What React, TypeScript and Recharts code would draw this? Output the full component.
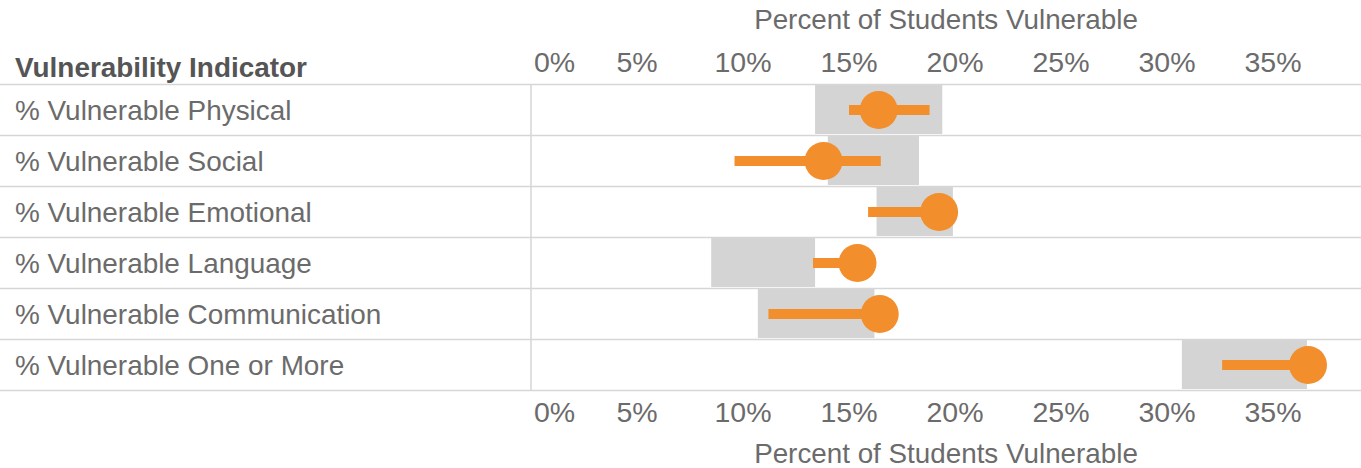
import React from "react";
import { ComposedChart, Bar, XAxis, YAxis } from "recharts";

const indicators = [
  "% Vulnerable Physical",
  "% Vulnerable Social",
  "% Vulnerable Emotional",
  "% Vulnerable Language",
  "% Vulnerable Communication",
  "% Vulnerable One or More",
];
// grey band (comparison range)
const bandLow = [13.4, 14.0, 16.3, 8.5, 10.7, 30.7];
const bandHigh = [19.4, 18.3, 19.9, 13.4, 16.2, 36.6];
// orange line (range)
const rangeLow = [15.0, 9.6, 15.9, 13.3, 11.2, 32.6];
const rangeHigh = [18.8, 16.5, 19.2, 15.4, 16.4, 36.6];
// dot
const current = [16.4, 13.8, 19.25, 15.4, 16.45, 36.65];

const xTicks = [0, 5, 10, 15, 20, 25, 30, 35];
const xMax = 39.15;
const axisTitle = "Percent of Students Vulnerable";

const data = indicators.map((name, i) => ({
  name,
  band: [bandLow[i], bandHigh[i]],
  range: [rangeLow[i], rangeHigh[i]],
  value: current[i],
}));

const W = 1361;
const H = 468;
const TOP = 84;
const BOTTOM = 78;
const LEFT = 531;
const ROW = (H - TOP - BOTTOM) / indicators.length;

const ORANGE = "#F28E2B";
const GREY = "#D4D4D4";
const RULE = "#D6D6D6";
const TEXT = "#6B6B6B";
const FONT = "'Liberation Sans', Arial, Helvetica, sans-serif";

const makeXTick = (yc: number) => (props: any) => {
  const { x, payload } = props;
  const isZero = payload.value === 0;
  return (
    <text
      x={isZero ? x + 3 : x}
      y={yc}
      textAnchor={isZero ? "start" : "middle"}
      dominantBaseline="central"
      fontSize={28.5}
      fontFamily={FONT}
      fill={TEXT}
    >
      {payload.value}%
    </text>
  );
};

const makeTitle = (baseline: number) => (props: any) => {
  const vb = props.viewBox || {};
  return (
    <text
      x={vb.x + vb.width / 2}
      y={baseline}
      textAnchor="middle"
      fontSize={27.8}
      fontFamily={FONT}
      fill={TEXT}
    >
      {axisTitle}
    </text>
  );
};

const YTick = (props: any) => {
  const { y, payload, index } = props;
  const top = Math.round(y - ROW / 2) + 0.5;
  const bottom = Math.round(y + ROW / 2) + 0.5;
  return (
    <g>
      <line x1={0} x2={W} y1={top} y2={top} stroke={RULE} strokeWidth={1.5} />
      {index === indicators.length - 1 && (
        <line x1={0} x2={W} y1={bottom} y2={bottom} stroke={RULE} strokeWidth={1.5} />
      )}
      <text
        x={15}
        y={y + 1}
        dominantBaseline="central"
        fontSize={27.9}
        fontFamily={FONT}
        fill={TEXT}
      >
        {payload.value}
      </text>
    </g>
  );
};

const Dot = (props: any) => {
  const { x, y, width, height } = props;
  return <circle cx={x + width} cy={y + height / 2} r={19} fill={ORANGE} />;
};

export default function App() {
  return (
    <div style={{ position: "absolute", left: 0, top: 0, width: W, height: H, background: "#fff" }}>
      <ComposedChart
        width={W}
        height={H}
        data={data}
        layout="vertical"
        margin={{ top: 0, right: 0, bottom: 0, left: 0 }}
        barCategoryGap={0}
        barGap={0}
      >
        <XAxis
          xAxisId="top"
          orientation="top"
          type="number"
          domain={[0, xMax]}
          ticks={xTicks}
          height={TOP}
          axisLine={false}
          tickLine={false}
          tick={makeXTick(62)}
          interval={0}
          label={{ content: makeTitle(29) }}
        />
        <XAxis
          xAxisId="bottom"
          orientation="bottom"
          type="number"
          domain={[0, xMax]}
          ticks={xTicks}
          height={BOTTOM}
          axisLine={false}
          tickLine={false}
          tick={makeXTick(412)}
          interval={0}
          label={{ content: makeTitle(463) }}
        />
        <YAxis
          yAxisId="band"
          type="category"
          dataKey="name"
          width={LEFT}
          axisLine={{ stroke: RULE, strokeWidth: 1.5 }}
          tickLine={false}
          tick={<YTick />}
          interval={0}
        />
        <YAxis yAxisId="range" type="category" dataKey="name" hide />
        <YAxis yAxisId="dot" type="category" dataKey="name" hide />
        <Bar
          xAxisId="bottom"
          yAxisId="band"
          dataKey="band"
          fill={GREY}
          barSize={ROW - 2}
          isAnimationActive={false}
        />
        <Bar
          xAxisId="bottom"
          yAxisId="range"
          dataKey="range"
          fill={ORANGE}
          barSize={10}
          isAnimationActive={false}
        />
        <Bar
          xAxisId="top"
          yAxisId="dot"
          dataKey="value"
          barSize={10}
          shape={<Dot />}
          isAnimationActive={false}
        />
      </ComposedChart>
      <div
        style={{
          position: "absolute",
          left: 15,
          top: 52,
          fontFamily: FONT,
          fontSize: 27.9,
          fontWeight: "bold",
          color: "#555555",
          lineHeight: "32px",
          whiteSpace: "nowrap",
        }}
      >
        Vulnerability Indicator
      </div>
    </div>
  );
}
